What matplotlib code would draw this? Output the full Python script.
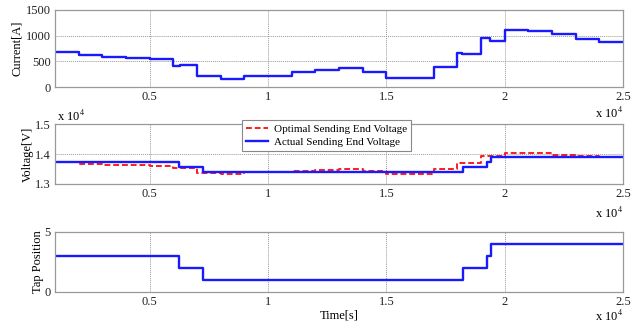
import matplotlib
matplotlib.use("Agg")
import matplotlib.pyplot as plt

plt.rcParams['font.family'] = ['Liberation Serif', 'DejaVu Serif']
plt.rcParams['mathtext.fontset'] = 'stix'

# ---- data ----
current_t = [1000, 2000, 3000, 4000, 5000, 6000, 6300, 7000, 8000, 9000, 10000,
             11000, 12000, 13000, 14000, 15000, 17000, 18000, 18200, 19000,
             19400, 20000, 21000, 22000, 23000, 24000, 25000]
current_a = [680, 615, 578, 558, 548, 400, 420, 218, 160, 205, 220,
             300, 333, 378, 295, 180, 397, 670, 640, 960,
             905, 1110, 1090, 1032, 936, 878, 878]

opt_t = [1000, 2000, 3000, 5000, 6000, 7000, 8000, 9000, 11000, 12000, 13000,
         14000, 15000, 17000, 18000, 19000, 20000, 22000, 23000, 24000, 25000]
opt_v = [13722, 13656, 13633, 13611, 13522, 13356, 13322, 13385, 13422, 13456, 13500,
         13433, 13333, 13510, 13711, 13933, 14044, 13978, 13944, 13889, 13889]

act_t = [1000, 6226, 7243, 18220, 19250, 19430, 25000]
act_v = [13722, 13556, 13389, 13556, 13722, 13889, 13889]

tap_t = [1000, 6226, 7243, 18220, 19250, 19430, 25000]
tap_pos = [3, 2, 1, 2, 3, 4, 4]

xticks = [5000, 10000, 15000, 20000, 25000]
xtick_labels = ['0.5', '1', '1.5', '2', '2.5']

W, H = 643, 325
fig = plt.figure(figsize=(W / 100, H / 100), dpi=100)

def box(l, t, r, b):
    return [l / W, (H - b) / H, (r - l) / W, (b - t) / H]

ax1 = fig.add_axes(box(55, 10, 623, 87))
ax2 = fig.add_axes(box(55, 124, 623, 184))
ax3 = fig.add_axes(box(55, 232, 623, 292))

blue = '#1a1aff'
red = '#ff1a1a'
fs = 9

ax1.plot(current_t, current_a, drawstyle='steps-post', color=blue, lw=1.7)
ax2.plot(opt_t, opt_v, drawstyle='steps-post', color=red, lw=1.4, ls=(0, (3, 1.5)),
         label='Optimal Sending End Voltage')
ax2.plot(act_t, act_v, drawstyle='steps-post', color=blue, lw=1.7,
         label='Actual Sending End Voltage')
ax3.plot(tap_t, tap_pos, drawstyle='steps-post', color=blue, lw=1.7)

ax1.set_ylim(0, 1500)
ax1.set_yticks([0, 500, 1000, 1500])
ax1.set_yticklabels(['0', '500', '1000', '1500'])
ax2.set_ylim(13000, 15000)
ax2.set_yticks([13000, 14000, 15000])
ax2.set_yticklabels(['1.3', '1.4', '1.5'])
ax3.set_ylim(0, 5)
ax3.set_yticks([0, 5])
ax3.set_yticklabels(['0', '5'])

for ax in (ax1, ax2, ax3):
    ax.set_xlim(1000, 25000)
    ax.set_xticks(xticks)
    ax.set_xticklabels(xtick_labels)
    ax.grid(True, color='#999999', ls=(0, (1, 1)), lw=0.7)
    ax.tick_params(labelsize=fs, length=0, pad=3, colors='#222222')
    for s in ax.spines.values():
        s.set_color('#999999')
        s.set_linewidth(0.9)

ax1.set_ylabel('Current[A]', fontsize=fs)
ax2.set_ylabel('Voltage[V]', fontsize=fs)
ax3.set_ylabel('Tap Position', fontsize=fs)
ax1.yaxis.set_label_coords((23 - 55) / 568, 0.5)
ax2.yaxis.set_label_coords((34 - 55) / 568, 0.5)
ax3.yaxis.set_label_coords((44 - 55) / 568, 0.5)
ax3.set_xlabel('Time[s]', fontsize=fs, labelpad=1)

# offset texts
off = r'x 10$^4$'
fig.text(623 / W, 1 - 113 / H, off, fontsize=fs, ha='right', va='center')
fig.text(623 / W, 1 - 213 / H, off, fontsize=fs, ha='right', va='center')
fig.text(623 / W, 1 - 324 / H, off, fontsize=fs, ha='right', va='bottom')
fig.text(57 / W, 1 - 116 / H, off, fontsize=fs, ha='left', va='center')

leg = ax2.legend(loc='upper left', bbox_to_anchor=(242 / W, 1 - 120 / H),
                 bbox_transform=fig.transFigure, fontsize=8, frameon=True,
                 fancybox=False, edgecolor='#888888', framealpha=1,
                 handlelength=2.0, borderpad=0.35, labelspacing=0.3,
                 handletextpad=0.5, borderaxespad=0)
leg.get_frame().set_linewidth(0.8)

fig.savefig('out.png', dpi=100)
